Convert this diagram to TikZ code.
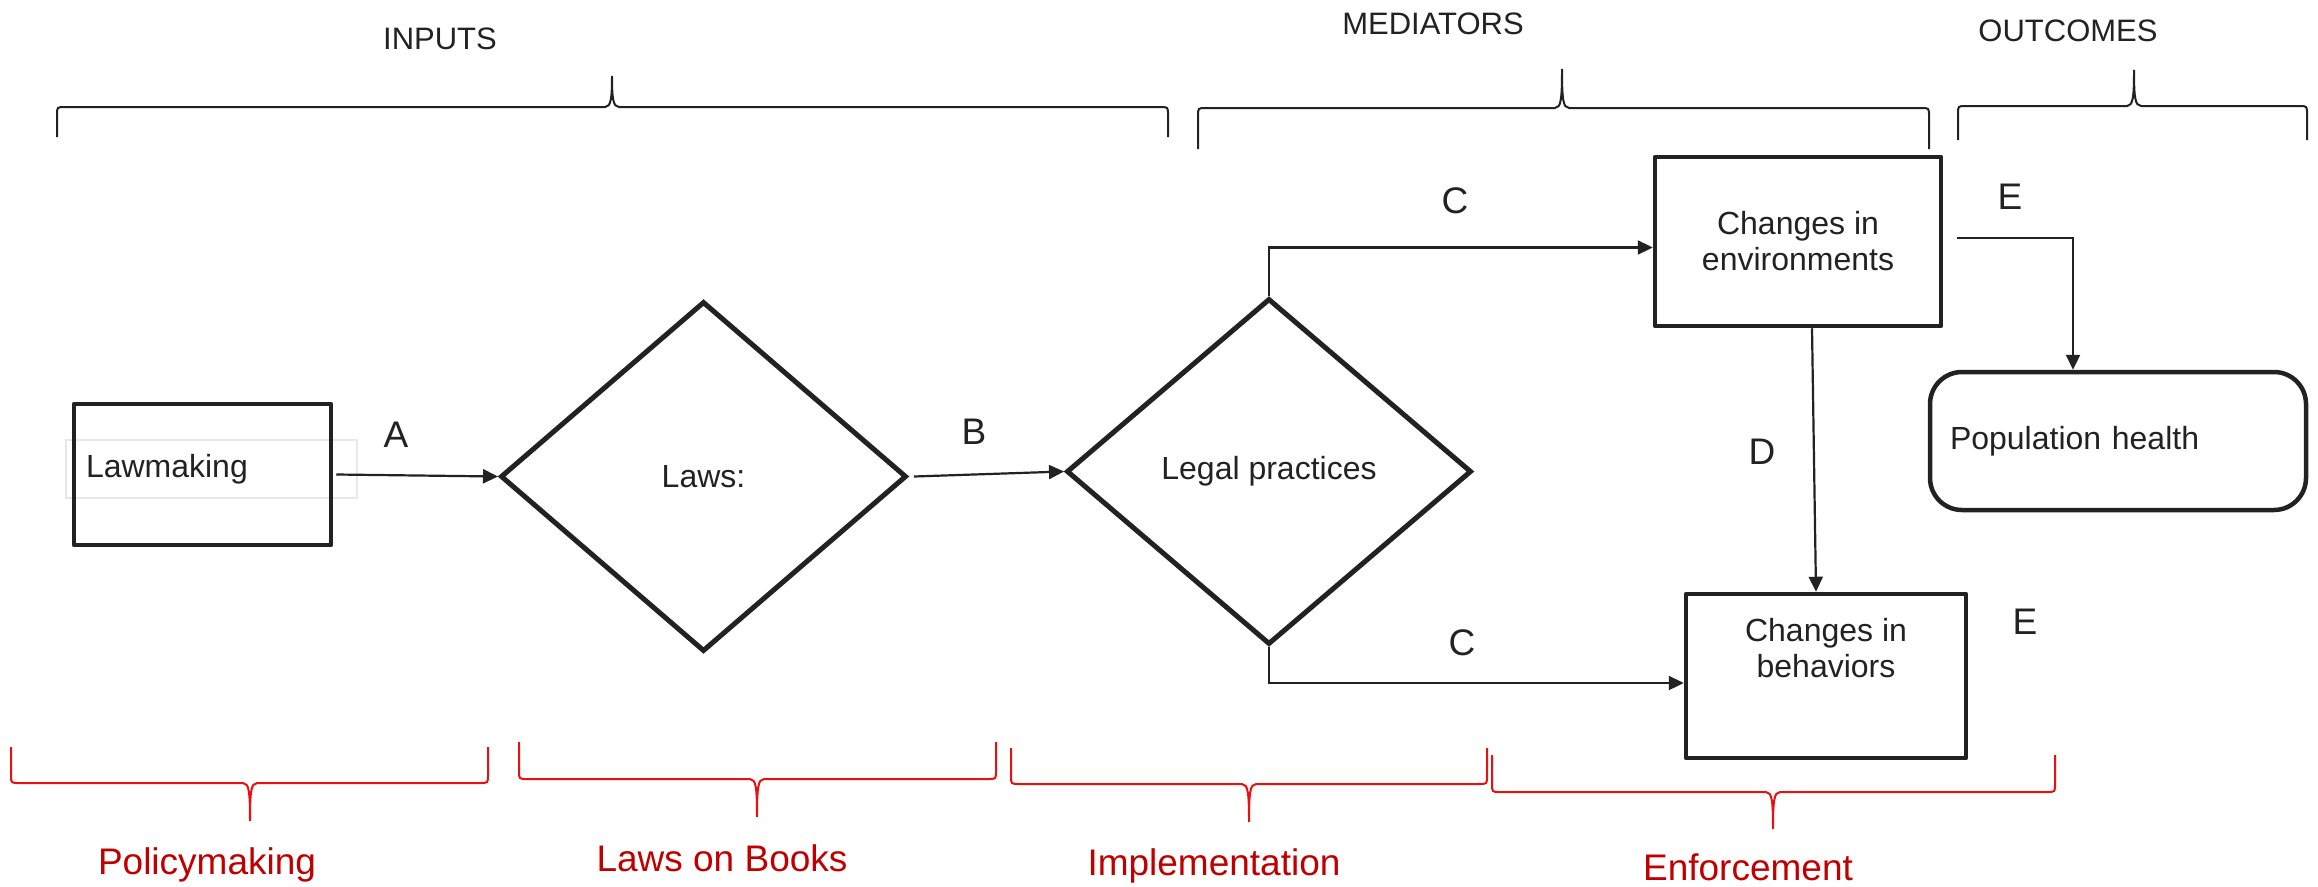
\documentclass[tikz,border=0pt]{standalone}
\usepackage{fontspec}
\setmainfont{Liberation Sans}
\usetikzlibrary{shapes.geometric,arrows.meta}
\definecolor{ink}{RGB}{34,34,34}
\definecolor{lawred}{RGB}{192,0,0}
\definecolor{bracered}{RGB}{232,16,16}

\begin{document}
\begin{tikzpicture}[x=1pt,y=-1pt,
    box/.style={draw=ink,line width=4.5pt,line join=round,inner sep=0pt},
    decision/.style={diamond,draw=ink,line width=5pt,inner sep=0pt,text=ink,font=\fontsize{32}{36}\selectfont},
    flow/.style={draw=ink,line width=2.2pt,-{Triangle[length=15pt,width=14pt]}},
    boxtext/.style={text=ink,font=\fontsize{32}{36}\selectfont,align=center},
    letter/.style={text=ink,font=\fontsize{37}{40}\selectfont},
    header/.style={text=ink,font=\fontsize{31}{36}\selectfont,anchor=base},
    stage/.style={text=lawred,font=\fontsize{37}{40}\selectfont,anchor=base},
    topbrace/.style={draw=ink,line width=2pt},
    botbrace/.style={draw=bracered,line width=2pt}]
  \path[use as bounding box,fill=white] (0,0) rectangle (2318,886);

  % headings and braces on top
  \node[header] (inputs) at (440,49) {INPUTS};
  \node[header] (mediators) at (1433,34) {MEDIATORS};
  \node[header] (outcomes) at (2068,41) {OUTCOMES};
  \draw[topbrace] (57,137) -- (57,115) .. controls (57,107) .. (65,107) -- (605,107) .. controls (611,107) and (612,98) .. (612,76) .. controls (612,98) and (613,107) .. (619,107) -- (1160,107) .. controls (1168,107) .. (1168,115) -- (1168,137);
  \draw[topbrace] (1198,149) -- (1198,116) .. controls (1198,108) .. (1206,108) -- (1555,108) .. controls (1561,108) and (1562,99) .. (1562,69) .. controls (1562,99) and (1563,108) .. (1569,108) -- (1921,108) .. controls (1929,108) .. (1929,116) -- (1929,149);
  \draw[topbrace] (1958,140) -- (1958,114) .. controls (1958,106) .. (1966,106) -- (2127,106) .. controls (2133,106) and (2134,97) .. (2134,70) .. controls (2134,97) and (2135,106) .. (2141,106) -- (2299,106) .. controls (2307,106) .. (2307,114) -- (2307,140);

  % stages and braces below
  \draw[botbrace] (11,747) -- (11,775) .. controls (11,783) .. (19,783) -- (243,783) .. controls (249,783) and (250,792) .. (250,821) .. controls (250,792) and (251,783) .. (257,783) -- (480,783) .. controls (488,783) .. (488,775) -- (488,747);
  \draw[botbrace] (519,742) -- (519,771) .. controls (519,779) .. (527,779) -- (750,779) .. controls (756,779) and (757,788) .. (757,817) .. controls (757,788) and (758,779) .. (764,779) -- (988,779) .. controls (996,779) .. (996,771) -- (996,742);
  \draw[botbrace] (1011,748) -- (1011,776) .. controls (1011,784) .. (1019,784) -- (1242,784) .. controls (1248,784) and (1249,793) .. (1249,822) .. controls (1249,793) and (1250,784) .. (1256,784) -- (1479,784) .. controls (1487,784) .. (1487,776) -- (1487,748);
  \draw[botbrace] (1492,755) -- (1492,784) .. controls (1492,792) .. (1500,792) -- (1766,792) .. controls (1772,792) and (1773,801) .. (1773,829) .. controls (1773,801) and (1774,792) .. (1780,792) -- (2047,792) .. controls (2055,792) .. (2055,784) -- (2055,755);
  \node[stage] (policy) at (207,874) {Policymaking};
  \node[stage] (books) at (722,871) {Laws on Books};
  \node[stage] (implement) at (1214,875) {Implementation};
  \node[stage] (enforce) at (1748,880) {Enforcement};

  % the flow
  \node[boxtext,draw=black!9,line width=1.5pt,text width=251pt,inner xsep=20pt,inner ysep=0pt,minimum height=58pt,align=left] (lawtext) at (211.5,469) {Lawmaking};
  \node[box,minimum width=257pt,minimum height=141pt] (lawmaking) at (202.5,474.5) {};
  \node[decision,minimum width=406pt,minimum height=350pt] (laws) at (703.5,476.5) {Laws:};
  \node[decision,minimum width=405pt,minimum height=346pt] (legal) at (1269,471.5) {Legal practices};
  \node[box,boxtext,minimum width=286pt,minimum height=169pt] (environments) at (1798,241.5) {Changes in\\environments};
  \node[box,minimum width=280pt,minimum height=164pt] (behaviors) at (1826,676) {};
  \node[boxtext] (behtext) at ([yshift=28pt]behaviors.center) {Changes in\\behaviors};
  \node[box,rounded corners=32pt,minimum width=376pt,minimum height=138pt,text width=336pt,inner xsep=20pt,boxtext,align=left] (health) at (2118,441) {Population health};
  \coordinate (estart) at (1957,238);

  \draw[flow] ([xshift=3pt]lawmaking.east) -- (laws.west);
  \draw[flow] ([xshift=5pt]laws.east) -- (legal.west);
  \draw[flow] (legal.north) |- ([yshift=-6pt]environments.west);
  \draw[flow] (legal.south) |- ([yshift=-7pt]behaviors.west);
  \draw[flow] ([xshift=14pt]environments.south) -- ([xshift=-10pt]behaviors.north);
  \draw[flow] (estart) -| ([xshift=-45pt]health.north);

  \node[letter] (la) at (396,435) {A};
  \node[letter] (lb) at (974,432) {B};
  \node[letter] (lc1) at (1455,201) {C};
  \node[letter] (lc2) at (1462,643) {C};
  \node[letter] (ld) at (1762,452) {D};
  \node[letter] (le1) at (2010,197) {E};
  \node[letter] (le2) at (2025,622) {E};
\end{tikzpicture}
\end{document}
